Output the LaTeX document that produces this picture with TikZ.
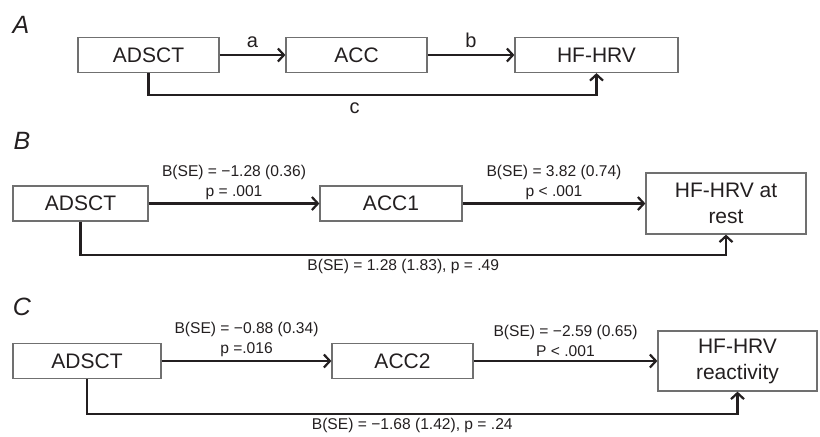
\documentclass[tikz,border=0pt]{standalone}
\usepackage{fontspec}
\setmainfont{Liberation Sans}
\usepackage{tikz}
\usetikzlibrary{arrows.meta}
\definecolor{boxgray}{HTML}{707070}
\definecolor{inkdark}{HTML}{231F20}

\begin{document}
\begin{tikzpicture}[x=0.5pt, y=-0.5pt,
    var/.style={draw=boxgray, line width=0.6pt, text=inkdark, inner sep=0pt,
                align=center, font=\fontsize{10.5}{13}\selectfont},
    conn/.style={draw=inkdark, line width=1.1pt,
                 -{Straight Barb[length=3pt, width=6.5pt]}},
    coef/.style={text=inkdark, align=center, inner sep=1.5pt,
                 font=\fontsize{7.8}{10}\selectfont},
    panel/.style={text=inkdark, font=\fontsize{12.5}{14}\selectfont\itshape}]
  \useasboundingbox (0,0) rectangle (820,436);

  % panel A
  \node[panel] (labA) at (21,25) {A};
  \node[var, minimum width=70.5pt, minimum height=17.5pt] (adsA) at (148.5,55) {ADSCT};
  \node[var, minimum width=70.5pt, minimum height=17.5pt] (accA) at (356.5,55) {ACC};
  \node[var, minimum width=81.5pt, minimum height=17.5pt] (hfA) at (596.5,55) {HF-HRV};
  \draw[conn] (adsA) -- node[above, text=inkdark, font=\fontsize{10}{12}\selectfont] {a} (accA);
  \draw[conn] (accA) -- node[above, text=inkdark, font=\fontsize{10}{12}\selectfont] {b} (hfA);
  \draw[conn] (adsA.south) -- ++(0,22) -| (hfA.south)
    node[pos=0.23, below, text=inkdark, font=\fontsize{10}{12}\selectfont] {c};

  % panel B
  \node[panel] (labB) at (22,141) {B};
  \node[var, minimum width=67.5pt, minimum height=17.5pt] (adsB) at (80.5,203.5) {ADSCT};
  \node[var, minimum width=71pt, minimum height=17.5pt] (accB) at (391,203.5) {ACC1};
  \node[var, minimum width=80pt, minimum height=30.5pt] (hfB) at (726,203.5) {HF-HRV at\\rest};
  \draw[conn] (adsB) -- node[coef, above] {B(SE) = −1.28 (0.36)\\p = .001} (accB);
  \draw[conn] (accB) -- node[coef, above] {B(SE) = 3.82 (0.74)\\p < .001} (hfB);
  \draw[conn] (adsB.south) -- ++(0,33) -| (hfB.south)
    node[coef, pos=0.25, below] {B(SE) = 1.28 (1.83), p = .49};

  % panel C
  \node[panel] (labC) at (22,307) {C};
  \node[var, minimum width=74pt, minimum height=17.5pt] (adsC) at (87,361) {ADSCT};
  \node[var, minimum width=70.5pt, minimum height=17.5pt] (accC) at (402.5,361) {ACC2};
  \node[var, minimum width=79.5pt, minimum height=30pt] (hfC) at (737.5,361) {HF-HRV\\reactivity};
  \draw[conn] (adsC) -- node[coef, above] {B(SE) = −0.88 (0.34)\\p =.016} (accC);
  \draw[conn] (accC) -- node[coef, above] {B(SE) = −2.59 (0.65)\\P < .001} (hfC);
  \draw[conn] (adsC.south) -- ++(0,35) -| (hfC.south)
    node[coef, pos=0.25, below] {B(SE) = −1.68 (1.42), p = .24};
\end{tikzpicture}
\end{document}
